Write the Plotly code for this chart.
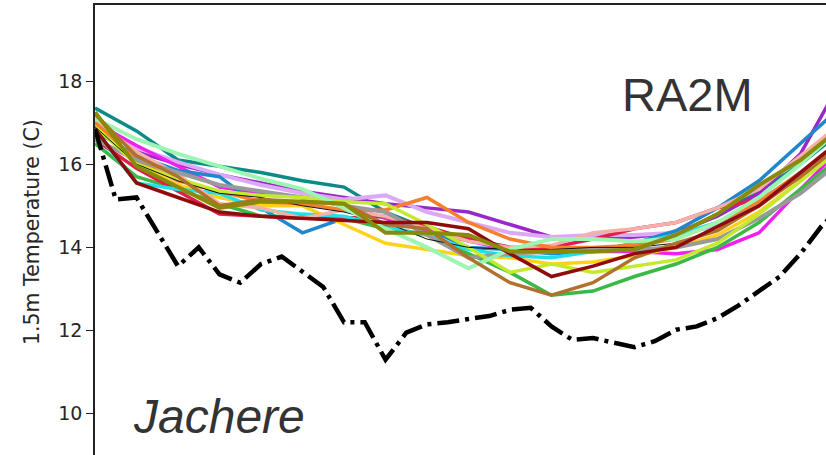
import plotly.graph_objects as go

# ---------------- data ----------------
hours = list(range(19))                      # model output, hourly steps
obs_time = [k * 0.5 for k in range(37)]      # observations, half-hourly

obs = [16.85, 15.15, 15.2, 14.4, 13.55, 14.0, 13.35, 13.15, 13.6, 13.78,
       13.4, 13.05, 12.2, 12.2, 11.3, 11.95, 12.15, 12.2, 12.28, 12.35,
       12.5, 12.55, 12.1, 11.78, 11.82, 11.7, 11.6, 11.75, 12.02, 12.1,
       12.3, 12.6, 12.95, 13.3, 13.85, 14.5, 15.0]

teal = [17.35, 16.8, 16.1, 15.95, 15.8, 15.6, 15.45, 14.85, 14.45, 14.2, 14.0, 13.95, 13.95, 14.05, 14.3, 14.8, 15.35, 16.0, 16.8]
purple = [17.0, 16.3, 16.0, 15.75, 15.55, 15.35, 15.2, 15.05, 14.95, 14.85, 14.55, 14.25, 14.2, 14.25, 14.35, 14.75, 15.3, 16.25, 18.05]
plum = [16.9, 16.4, 16.05, 15.75, 15.5, 15.3, 15.15, 15.25, 14.85, 14.6, 14.35, 14.25, 14.3, 14.3, 14.35, 14.5, 15.0, 15.8, 16.6]
magenta = [17.0, 16.45, 15.95, 15.45, 15.3, 15.2, 15.0, 14.7, 14.4, 14.15, 13.95, 13.9, 13.9, 13.9, 13.85, 13.95, 14.35, 15.4, 16.4]
mint = [17.1, 16.6, 16.25, 15.95, 15.65, 15.4, 14.95, 14.45, 14.0, 13.5, 13.95, 14.2, 14.2, 14.15, 14.2, 14.6, 15.2, 16.0, 16.9]
gold = [16.95, 16.0, 15.5, 15.2, 15.0, 15.0, 14.55, 14.1, 13.95, 13.8, 13.75, 13.6, 13.65, 13.8, 14.0, 14.3, 14.85, 15.6, 16.4]
blue = [16.8, 16.2, 15.85, 15.7, 14.95, 14.35, 14.7, 14.75, 14.45, 14.0, 13.95, 13.85, 13.9, 14.1, 14.4, 14.95, 15.6, 16.5, 17.4]
green = [16.5, 15.7, 15.4, 15.05, 14.75, 14.75, 14.7, 14.45, 14.3, 13.85, 13.4, 12.85, 12.95, 13.3, 13.6, 14.0, 14.6, 15.4, 16.2]
darkred = [16.85, 15.55, 15.2, 14.85, 14.75, 14.7, 14.65, 14.6, 14.6, 14.45, 13.85, 13.3, 13.55, 13.85, 14.0, 14.5, 15.0, 15.8, 16.6]
brown = [17.2, 16.2, 15.7, 15.0, 15.15, 15.1, 15.05, 14.55, 14.45, 13.75, 13.15, 12.85, 13.15, 13.75, 14.1, 14.4, 15.0, 15.7, 16.5]
orange = [17.0, 16.1, 15.6, 15.35, 15.1, 15.05, 14.9, 14.9, 15.2, 14.6, 14.2, 14.0, 14.0, 14.05, 14.2, 14.6, 15.1, 15.8, 16.6]
gray = [16.6, 16.1, 15.8, 15.5, 15.35, 15.2, 15.0, 14.85, 14.3, 13.75, 13.85, 13.9, 13.95, 13.95, 14.0, 14.2, 14.7, 15.3, 16.1]
crimson = [16.6, 15.9, 15.35, 14.8, 14.75, 14.7, 14.7, 14.75, 14.5, 14.2, 14.0, 14.0, 14.2, 14.45, 14.6, 14.95, 15.15, 15.7, 16.4]
cyan = [16.8, 15.55, 15.4, 15.3, 14.9, 14.8, 14.75, 14.5, 14.3, 13.95, 13.8, 13.75, 13.9, 14.1, 14.3, 14.6, 15.1, 15.8, 16.6]
pink = [17.05, 16.3, 15.75, 15.05, 14.95, 14.7, 14.9, 14.75, 14.45, 14.15, 14.0, 14.05, 14.35, 14.45, 14.6, 14.95, 15.4, 16.2, 17.0]
yellowgreen = [16.9, 16.0, 15.65, 15.35, 15.25, 15.2, 15.1, 15.05, 14.55, 14.0, 13.4, 13.6, 13.4, 13.55, 13.7, 14.1, 14.8, 15.6, 16.4]
thinblack = [16.9, 16.0, 15.6, 15.3, 15.2, 15.0, 14.85, 14.6, 14.2, 14.0, 13.95, 13.95, 14.0, 14.0, 14.1, 14.4, 15.0, 15.7, 16.5]
olive = [17.25, 15.95, 15.45, 14.95, 15.1, 15.1, 15.05, 14.35, 14.35, 14.3, 13.9, 13.9, 13.9, 13.95, 14.3, 14.8, 15.5, 16.1, 16.9]

members = [
    ("teal", teal, "#0b8a86", 3.5),
    ("purple", purple, "#9a28c8", 3.5),
    ("plum", plum, "#dcaaf5", 4),
    ("magenta", magenta, "#f020f0", 3.5),
    ("blue", blue, "#2187cc", 3.5),
    ("gold", gold, "#ffd21a", 3.5),
    ("green", green, "#3cb846", 3.5),
    ("crimson", crimson, "#e0204a", 3.5),
    ("cyan", cyan, "#22e0e8", 3.5),
    ("pink", pink, "#f6b0aa", 3.5),
    ("orange", orange, "#f57f2a", 3.5),
    ("gray", gray, "#9a9a9a", 4),
    ("yellowgreen", yellowgreen, "#c4ea30", 3.5),
    ("thinblack", thinblack, "#111111", 1),
    ("mint", mint, "#9cf5b0", 4),
    ("brown", brown, "#b0702e", 3.5),
    ("darkred", darkred, "#8e0c0c", 3.5),
    ("olive", olive, "#8a8a0a", 4),
]

y_ticks = [10, 12, 14, 16, 18]

# ---------------- figure ----------------
fig = go.Figure()
for name, vals, col, w in members:
    fig.add_trace(go.Scatter(x=hours, y=vals, mode="lines", name=name,
                             line=dict(color=col, width=w), showlegend=False))

fig.add_trace(go.Scatter(x=obs_time, y=obs, mode="lines", name="obs",
                         line=dict(color="black", width=4.5, dash="22px,6px,4px,6px"),
                         showlegend=False))

W, H = 826, 455
L, T = 95, 5
pw, ph = W - L, H - T

def px(xp):
    return (xp - L) / pw

def py(yp):
    return (H - yp) / ph

fig.update_layout(
    width=W, height=H,
    margin=dict(l=L, r=0, t=T, b=0, pad=0),
    paper_bgcolor="white", plot_bgcolor="white",
    xaxis=dict(range=[0, (W - L) / 41.5], side="top", showline=True,
               linecolor="#222", linewidth=1.5, showticklabels=False,
               ticks="", showgrid=False, zeroline=False),
    yaxis=dict(range=[18 - (455 - 81) / 41.6, 18 + (81 - 5) / 41.6],
               tickvals=y_ticks, ticktext=[str(v) for v in y_ticks],
               ticks="outside", ticklen=7, tickwidth=1.2, tickcolor="#222",
               showline=True, linecolor="#222", linewidth=1.5,
               showgrid=False, zeroline=False,
               tickfont=dict(family="DejaVu Sans", size=19, color="#262626")),
    annotations=[
        dict(text="1.5m Temperature (C)", xref="paper", yref="paper",
             x=px(32), y=py(232), textangle=-90, showarrow=False,
             xanchor="center", yanchor="middle",
             font=dict(family="DejaVu Sans", size=20.5, color="#262626")),
        dict(text="RA2M", xref="paper", yref="paper",
             x=px(687), y=py(95), showarrow=False,
             xanchor="center", yanchor="middle",
             font=dict(family="Liberation Sans", size=47, color="#333333")),
        dict(text="<i>Jachere</i>", xref="paper", yref="paper",
             x=px(131), y=py(416), showarrow=False,
             xanchor="left", yanchor="middle",
             font=dict(family="Liberation Sans", size=48, color="#333333")),
    ],
)

fig.write_html("out.html")
